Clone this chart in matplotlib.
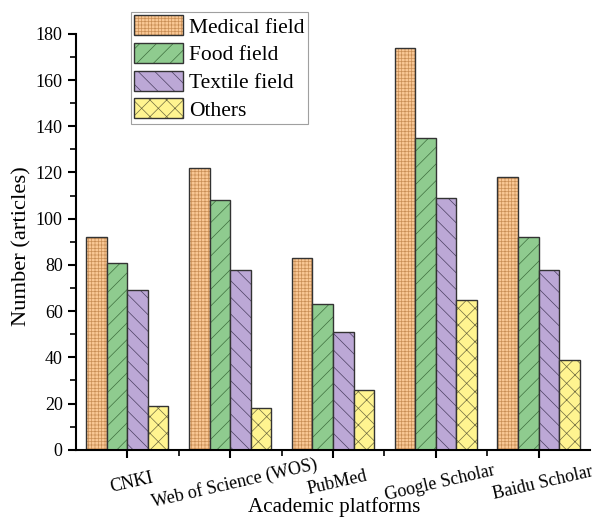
"""Articles per academic platform, grouped by field"""

import matplotlib

matplotlib.use("Agg")
import matplotlib.pyplot as plt
import matplotlib.transforms as mtransforms
from matplotlib.legend_handler import HandlerTuple
from matplotlib.ticker import FixedLocator, MultipleLocator
import numpy as np

platforms = ["CNKI", "Web of Science (WOS)", "PubMed", "Google Scholar", "Baidu Scholar"]
fields = ["Medical field", "Food field", "Textile field", "Others"]
medical = [92, 122, 83, 174, 118]
food = [81, 108, 63, 135, 92]
textile = [69, 78, 51, 109, 78]
others = [19, 18, 26, 65, 39]

colors = ["#F9C795", "#8FCB8F", "#BCA8D6", "#FFF490"]
hatch_colors = ["#C98E55", "#3E6E3E", "#4A4060", "#6E6A40"]
hatches = ["+++++", "//", "\\\\", "xx"]

plt.rcParams["font.family"] = ["Liberation Serif", "DejaVu Serif"]
plt.rcParams["hatch.linewidth"] = 0.5

fig = plt.figure(figsize=(5.93, 5.2), dpi=100)
ax = fig.add_axes([0.128, 0.135, 0.867, 0.8])

x = np.arange(1, len(platforms) + 1)
w = 0.2
handles = []
for i, vals in enumerate([medical, food, textile, others]):
    pos = x + (i - 1.5) * w
    # fill + hatch in a softer colour, then a dark outline on top
    fill = ax.bar(pos, vals, w, color=colors[i], hatch=hatches[i],
                  edgecolor=hatch_colors[i], linewidth=0)
    edge = ax.bar(pos, vals, w, color="none", edgecolor="#333333", linewidth=1.0)
    handles.append((fill, edge))

ax.set_xlim(0.5, 5.5)
ax.set_ylim(0, 180)
ax.spines["top"].set_visible(False)
ax.spines["right"].set_visible(False)
for s in ("left", "bottom"):
    ax.spines[s].set_linewidth(1.5)

ax.yaxis.set_major_locator(MultipleLocator(20))
ax.yaxis.set_minor_locator(MultipleLocator(10))
ax.set_xticks(x)
ax.set_xticklabels(platforms, rotation=13, rotation_mode="anchor",
                   ha="center", va="center", fontsize=13)
ax.xaxis.set_minor_locator(FixedLocator(x[:-1] + 0.5))
ax.tick_params(axis="both", which="major", direction="out", length=6, width=1.5, labelsize=13)
ax.tick_params(axis="both", which="minor", direction="out", length=4, width=1.2)
ax.tick_params(axis="x", pad=18)
shift = mtransforms.ScaledTranslation(0.04, 0, fig.dpi_scale_trans)
for lab in ax.get_xticklabels():
    lab.set_transform(lab.get_transform() + shift)

ax.set_xlabel("Academic platforms", fontsize=15.2)
ax.xaxis.set_label_coords(0.502, -0.113)
ax.set_ylabel("Number (articles)", fontsize=16.2)
ax.yaxis.set_label_coords(-0.086, 0.49)

leg = ax.legend(handles, fields, handler_map={tuple: HandlerTuple(ndivide=1)},
                loc="upper left", bbox_to_anchor=(131 / 593, 1 - 12 / 520),
                bbox_transform=fig.transFigure, fontsize=15.5, frameon=True,
                fancybox=False, edgecolor="#888888", borderaxespad=0,
                handlelength=2.25, handleheight=1.05, labelspacing=0.25,
                handletextpad=0.3, borderpad=0.15)
leg.get_frame().set_linewidth(0.8)

fig.savefig("out.png", dpi=100)
